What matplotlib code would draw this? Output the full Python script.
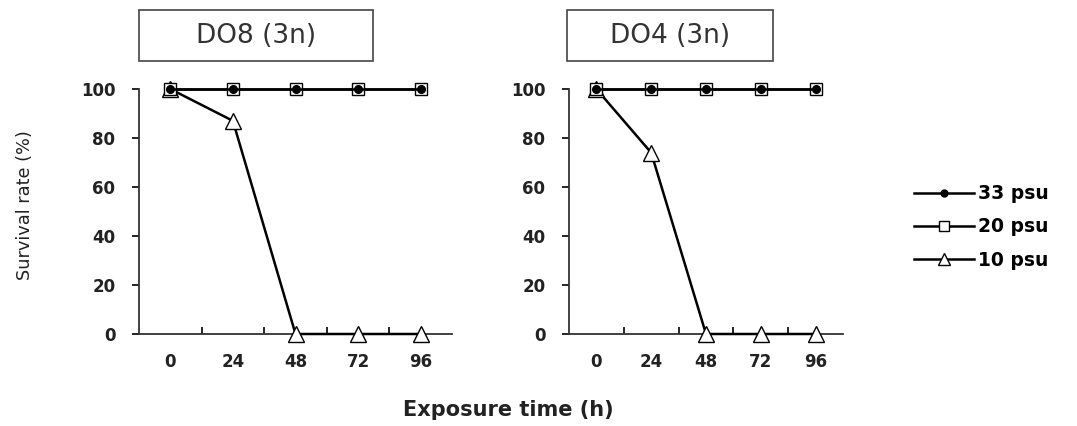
import matplotlib
matplotlib.use("Agg")
import matplotlib.pyplot as plt
from matplotlib.patches import Rectangle
from matplotlib.lines import Line2D

hours = ["0", "24", "48", "72", "96"]
yticks = [0, 20, 40, 60, 80, 100]
panel_titles = ["DO8 (3n)", "DO4 (3n)"]
series_labels = ["33 psu", "20 psu", "10 psu"]

do8_33 = [100, 100, 100, 100, 100]
do8_20 = [100, 100, 100, 100, 100]
do8_10 = [100, 87, 0, 0, 0]

do4_33 = [100, 100, 100, 100, 100]
do4_20 = [100, 100, 100, 100, 100]
do4_10 = [100, 74, 0, 0, 0]

W, H = 1077, 426
fig = plt.figure(figsize=(W / 100, H / 100), dpi=100)
fig.patch.set_facecolor("white")


def fx(px):
    return px / W


def fy(py):
    return 1 - py / H


styles = [
    dict(marker="o", ms=5.5, mfc="black", mec="black", zorder=5),
    dict(marker="s", ms=8, mfc="white", mec="black", mew=1.0, zorder=4),
    dict(marker="^", ms=11, mfc="white", mec="black", mew=1.0, zorder=3),
]

panels = [
    (139, 452, [do8_33, do8_20, do8_10], panel_titles[0], (139, 373)),
    (569, 843, [do4_33, do4_20, do4_10], panel_titles[1], (567, 773)),
]

tick_font = dict(fontsize=12, fontweight="bold", color="#222222")

for x0, x1, data, title, (bx0, bx1) in panels:
    ax = fig.add_axes([fx(x0), fy(334), fx(x1 - x0), fy(89) - fy(334)])
    pos = list(range(len(hours)))
    # draw back-to-front so the filled circles sit on top
    for vals, st in reversed(list(zip(data, styles))):
        ax.plot(pos, vals, color="black", lw=1.8, clip_on=False, **st)
    ax.set_xlim(-0.5, len(hours) - 0.5)
    ax.set_ylim(0, 100)
    ax.set_xticks(pos)
    ax.set_xticklabels(hours, **tick_font)
    ax.set_xticks([p + 0.5 for p in pos[:-1]], minor=True)
    ax.set_yticks(yticks)
    ax.set_yticklabels([str(v) for v in yticks], **tick_font)
    ax.tick_params(axis="x", which="major", length=0, pad=14)
    ax.tick_params(axis="x", which="minor", direction="in", length=5, width=1.2)
    ax.tick_params(axis="y", direction="out", length=5, width=1.2, pad=12)
    for s in ("top", "right"):
        ax.spines[s].set_visible(False)
    for s in ("left", "bottom"):
        ax.spines[s].set_linewidth(1.3)
        ax.spines[s].set_color("#333333")
    ax.set_facecolor("none")

    # title box
    fig.add_artist(Rectangle((fx(bx0), fy(61)), fx(bx1 - bx0), fy(10) - fy(61),
                             transform=fig.transFigure, fill=False,
                             edgecolor="#444444", lw=1.2))
    fig.text(fx((bx0 + bx1) / 2), fy(36), title, ha="center", va="center",
             fontsize=19, color="#333333")

fig.text(fx(25), fy(205), "Survival rate (%)", rotation=90, ha="center",
         va="center", fontsize=12.8, color="#222222")
fig.text(fx(508), fy(410), "Exposure time (h)", ha="center", va="center",
         fontsize=15, fontweight="bold", color="#222222")

handles = [Line2D([], [], color="black", lw=1.8, **{k: v for k, v in st.items() if k != "zorder"})
           for st in styles]
handles[0].set_markersize(5)
handles[1].set_markersize(7)
handles[2].set_markersize(8)
fig.legend(handles, series_labels, loc="center left",
           bbox_to_anchor=(fx(897), fy(227)), frameon=False,
           handlelength=3.2, handletextpad=0.2, labelspacing=0.75,
           prop=dict(size=13.5, weight="bold"))

fig.savefig("out.png", dpi=100)
